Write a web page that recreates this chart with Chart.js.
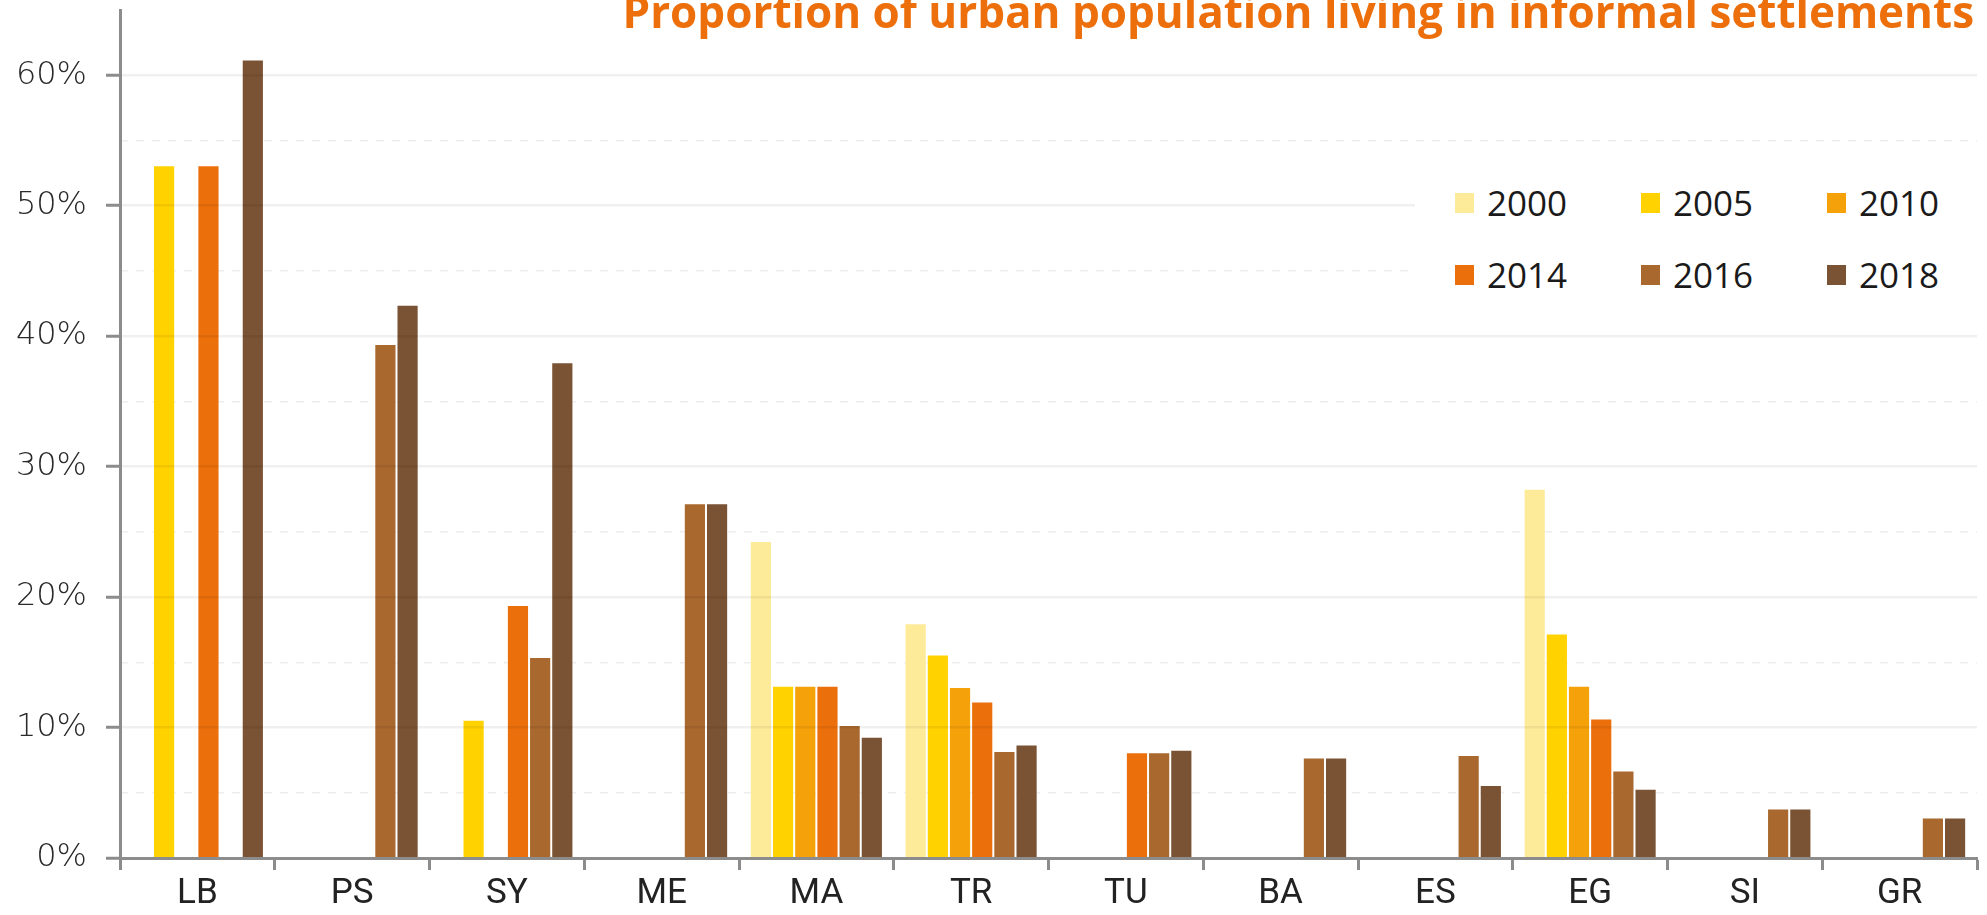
<!DOCTYPE html>
<html>
<head>
<meta charset="utf-8">
<script src="https://cdn.jsdelivr.net/npm/chart.js@4.4.0/dist/chart.umd.min.js"></script>
<style>
  body { margin: 0; background: #fff; }
  #wrap { position: relative; width: 1987px; height: 915px; overflow: hidden; }
  #legend { position: absolute; left: 1415px; top: 172px; width: 562px; height: 130px; background: #fff; }
  .item { position: absolute; display: flex; align-items: center; font-family: "Open Sans", sans-serif; font-size: 35px; color: #1a1a1a; }
  .box { width: 19px; height: 20px; margin-right: 13px; }
</style>
</head>
<body>
<div id="wrap">
  <canvas id="myChart"></canvas>
  <div id="legend"></div>
</div>
<script>
// Proportion of urban population living in informal settlements
const categories = ["LB", "PS", "SY", "ME", "MA", "TR", "TU", "BA", "ES", "EG", "SI", "GR"];
const years = ["2000", "2005", "2010", "2014", "2016", "2018"];

const y2000 = [null, null, null, null, 24.3, 18.0, null, null, null, 28.3, null, null];
const y2005 = [53.1, null, 10.6, null, 13.2, 15.6, null, null, null, 17.2, null, null];
const y2010 = [null, null, null, null, 13.2, 13.1, null, null, null, 13.2, null, null];
const y2014 = [53.1, null, 19.4, null, 13.2, 12.0, 8.1, null, null, 10.7, null, null];
const y2016 = [null, 39.4, 15.4, 27.2, 10.2, 8.2, 8.1, 7.7, 7.9, 6.7, 3.8, 3.1];
const y2018 = [61.2, 42.4, 38.0, 27.2, 9.3, 8.7, 8.3, 7.7, 5.6, 5.3, 3.8, 3.1];

const yTicks = [0, 10, 20, 30, 40, 50, 60];
const colors = ["#FEEB99", "#FFD200", "#F4A10A", "#EB6F0B", "#A8682E", "#7A5234"];
const series = [y2000, y2005, y2010, y2014, y2016, y2018];

const axisGray = "#8c8c8c";

const titlePlugin = {
  id: "topTitle",
  afterDraw(chart) {
    const c = chart.ctx;
    c.save();
    c.font = "bold 44px 'Open Sans', sans-serif";
    c.fillStyle = "#EC6F0B";
    c.textAlign = "right";
    c.textBaseline = "alphabetic";
    c.fillText("Proportion of urban population living in informal settlements", 1974, 28);
    c.restore();
  },
};

const ctx = document.getElementById("myChart").getContext("2d");

const chart = new Chart(ctx, {
  type: "bar",
  data: {
    labels: categories,
    datasets: years.map((y, i) => ({
      label: y,
      data: series[i],
      backgroundColor: colors[i],
      borderColor: "rgba(255,255,255,0.35)",
      borderWidth: 1,
      categoryPercentage: 0.86,
      barPercentage: 1.0,
    })),
  },
  options: {
    responsive: true,
    maintainAspectRatio: false,
    animation: false,
    layout: { padding: { top: 10, right: 10, left: 0, bottom: 0 } },
    plugins: {
      legend: { display: false },
      tooltip: { enabled: false },
    },
    scales: {
      x: {
        grid: {
          offset: true,
          drawOnChartArea: false,
          tickLength: 12,
          tickColor: axisGray,
          tickWidth: 3,
        },
        border: { color: axisGray, width: 3, z: 2 },
        ticks: {
          color: "#222",
          padding: 3,
          font: { family: "'Liberation Sans Narrow', 'Roboto', sans-serif", size: 35 },
        },
        afterFit: (scale) => {
          scale.height = 57;
          scale.paddingLeft = 0;
          scale.paddingRight = 0;
        },
      },
      y2: {
        position: "left",
        min: 0,
        max: 65,
        ticks: { display: false, stepSize: 5 },
        grid: {
          drawTicks: false,
          lineWidth: 1.5,
          color: (c) => (c.tick && c.tick.value % 10 === 5 && c.tick.value < 65 ? "rgba(0,0,0,0.07)" : "rgba(0,0,0,0)"),
        },
        border: { display: false, dash: [8, 8] },
        afterFit: (scale) => {
          scale.width = 0;
          scale.paddingTop = 0;
          scale.paddingBottom = 0;
        },
      },
      y: {
        position: "left",
        min: 0,
        max: 65,
        afterBuildTicks: (scale) => {
          scale.ticks = yTicks.map((v) => ({ value: v }));
        },
        ticks: {
          color: "#2a2a2a",
          padding: 19,
          font: { family: "'DejaVu Sans', sans-serif", size: 32, weight: 300 },
          callback: (v) => v + "%",
        },
        grid: {
          z: 1,
          lineWidth: 2.5,
          color: (c) => (c.tick && c.tick.value === 0 ? "rgba(0,0,0,0)" : "rgba(0,0,0,0.06)"),
          tickLength: 14,
          tickColor: axisGray,
          tickWidth: 3,
        },
        border: { color: axisGray, width: 3, z: 2 },
        afterFit: (scale) => {
          scale.width = 120;
          scale.paddingTop = 0;
          scale.paddingBottom = 0;
        },
      },
    },
  },
  plugins: [titlePlugin],
});

// HTML legend, 3 columns x 2 rows
const legend = document.getElementById("legend");
chart.data.datasets.forEach((ds, i) => {
  const col = i % 3;
  const row = Math.floor(i / 3);
  const item = document.createElement("div");
  item.className = "item";
  item.style.left = (40 + col * 186) + "px";
  item.style.top = (7 + row * 72) + "px";
  item.innerHTML = '<span class="box" style="background:' + ds.backgroundColor + '"></span>' + ds.label;
  legend.appendChild(item);
});
</script>
</body>
</html>
